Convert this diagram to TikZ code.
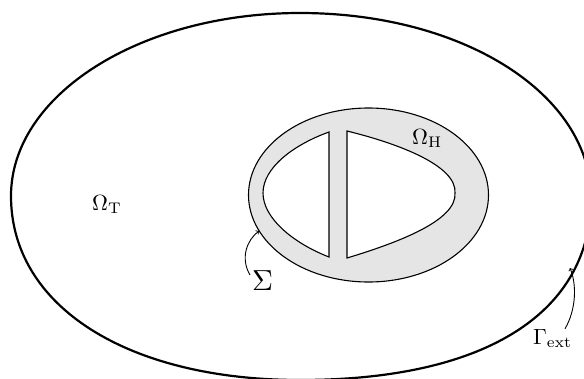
\documentclass[tikz,border=0pt]{standalone}
\begin{document}
\begin{tikzpicture}[x=1pt,y=-1pt,
  lbl/.style={inner sep=0pt, anchor=base west},
  outerline/.style={line width=2.2pt},
  innerline/.style={line width=1.1pt},
  pointer/.style={->, line width=0.9pt, >=to}]
\useasboundingbox (0,0) rectangle (584,378);
\clip (0,0) rectangle (584,378);
% outer domain
\draw[outerline] (11,196)
  .. controls (11,95) and (140,13) .. (300,13)
  .. controls (463,13) and (591,94) .. (591,198)
  .. controls (591,310) and (490,380) .. (300,380)
  .. controls (127,380) and (11,306) .. (11,196) -- cycle;
% gray annulus
\filldraw[innerline, fill=gray!20] (368.5,195) ellipse [x radius=120, y radius=87];
% left hole
\filldraw[innerline, fill=white] (329,132) -- (329,257)
  .. controls (293,243) and (263,218) .. (263,193)
  .. controls (263,168) and (293,145) .. (329,132) -- cycle;
% right hole
\filldraw[innerline, fill=white] (347,131) -- (347,258)
  .. controls (400,242) and (457,220) .. (455,193)
  .. controls (457,166) and (400,144) .. (347,131) -- cycle;
% labels
\node[lbl] (omT) at (92,210) {\scalebox{2.2}{$\Omega_{\mathrm{T}}$}};
\node[lbl] (omH) at (412,144) {\scalebox{2.2}{$\Omega_{\mathrm{H}}$}};
\node[lbl] (sig) at (252,290) {\scalebox{2.9}{$\Sigma$}};
\node[lbl] (gam) at (533,344) {\scalebox{2.2}{$\Gamma_{\mathrm{ext}}$}};
\coordinate (sigtip) at (259,231);
\coordinate (gamtip) at (570,268);
\draw[pointer] ([xshift=-2pt,yshift=-5pt]sig.north west) .. controls (240,258) and (247,240) .. (sigtip);
\draw[pointer] ([xshift=32pt]gam.north west) .. controls (576,310) and (577,285) .. (gamtip);
\end{tikzpicture}
\end{document}
